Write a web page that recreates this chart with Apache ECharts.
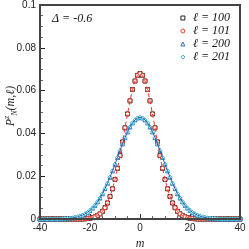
<!DOCTYPE html>
<html><head><meta charset="utf-8">
<script src="https://cdn.jsdelivr.net/npm/echarts@6/dist/echarts.min.js"></script>
<style>html,body{margin:0;padding:0;background:#fff}#c{width:249px;height:249px}</style>
</head><body><div id="c"></div>
<script>
var mValues = [-40,-39,-38,-37,-36,-35,-34,-33,-32,-31,-30,-29,-28,-27,-26,-25,-24,-23,-22,-21,-20,-19,-18,-17,-16,-15,-14,-13,-12,-11,-10,-9,-8,-7,-6,-5,-4,-3,-2,-1,0,1,2,3,4,5,6,7,8,9,10,11,12,13,14,15,16,17,18,19,20,21,22,23,24,25,26,27,28,29,30,31,32,33,34,35,36,37,38,39,40];
var p100 = [0,0,0,0,0,0,0,0,0,0,0,0,0,0,0,0,0,0,0.0001,0.0002,0.0004,0.0006,0.0010,0.0016,0.0024,0.0036,0.0053,0.0075,0.0105,0.0141,0.0185,0.0237,0.0296,0.0360,0.0426,0.0491,0.0552,0.0605,0.0645,0.0671,0.0680,0.0671,0.0645,0.0605,0.0552,0.0491,0.0426,0.0360,0.0296,0.0237,0.0185,0.0141,0.0105,0.0075,0.0053,0.0036,0.0024,0.0016,0.0010,0.0006,0.0004,0.0002,0.0001,0,0,0,0,0,0,0,0,0,0,0,0,0,0,0,0,0,0];
var p101 = [0,0,0,0,0,0,0,0,0,0,0,0,0,0,0,0,0,0,0.0001,0.0002,0.0004,0.0006,0.0010,0.0016,0.0024,0.0036,0.0053,0.0075,0.0105,0.0141,0.0185,0.0237,0.0296,0.0360,0.0426,0.0491,0.0552,0.0605,0.0645,0.0671,0.0680,0.0671,0.0645,0.0605,0.0552,0.0491,0.0426,0.0360,0.0296,0.0237,0.0185,0.0141,0.0105,0.0075,0.0053,0.0036,0.0024,0.0016,0.0010,0.0006,0.0004,0.0002,0.0001,0,0,0,0,0,0,0,0,0,0,0,0,0,0,0,0,0,0];
var p200 = [0,0,0,0,0,0,0,0,0,0.0001,0.0002,0.0003,0.0004,0.0005,0.0007,0.0010,0.0014,0.0018,0.0024,0.0031,0.0040,0.0051,0.0064,0.0080,0.0098,0.0118,0.0142,0.0167,0.0195,0.0225,0.0256,0.0288,0.0320,0.0351,0.0380,0.0407,0.0430,0.0449,0.0463,0.0472,0.0475,0.0472,0.0463,0.0449,0.0430,0.0407,0.0380,0.0351,0.0320,0.0288,0.0256,0.0225,0.0195,0.0167,0.0142,0.0118,0.0098,0.0080,0.0064,0.0051,0.0040,0.0031,0.0024,0.0018,0.0014,0.0010,0.0007,0.0005,0.0004,0.0003,0.0002,0.0001,0,0,0,0,0,0,0,0,0];
var p201 = [0,0,0,0,0,0,0,0,0,0.0001,0.0002,0.0003,0.0004,0.0005,0.0007,0.0010,0.0014,0.0018,0.0024,0.0031,0.0040,0.0051,0.0064,0.0080,0.0098,0.0118,0.0142,0.0167,0.0195,0.0225,0.0256,0.0288,0.0320,0.0351,0.0380,0.0407,0.0430,0.0449,0.0463,0.0472,0.0475,0.0472,0.0463,0.0449,0.0430,0.0407,0.0380,0.0351,0.0320,0.0288,0.0256,0.0225,0.0195,0.0167,0.0142,0.0118,0.0098,0.0080,0.0064,0.0051,0.0040,0.0031,0.0024,0.0018,0.0014,0.0010,0.0007,0.0005,0.0004,0.0003,0.0002,0.0001,0,0,0,0,0,0,0,0,0];
var seriesNames = ['ℓ = 100','ℓ = 101','ℓ = 200','ℓ = 201'];
var seriesColors = ['#222','#e8392a','#2a73c0','#35b8c8'];
var seriesSymbols = ['rect','circle','triangle','diamond'];

function pairs(ys){ return mValues.map(function(m,i){ return [m, ys[i]]; }); }

var chart = echarts.init(document.getElementById('c'), null, {renderer:'canvas'});
var axisCol = '#444';
function scat(i, ys, size){
  return {name:seriesNames[i], type:'scatter', data:pairs(ys), symbol:seriesSymbols[i], symbolSize:size,
    itemStyle:{color:'#fff', opacity:1, borderColor:seriesColors[i], borderWidth:1}, z:3};
}
var serif = 'Liberation Serif';
chart.setOption({
  animation:false,
  grid:{left:40, right:9, top:5, bottom:30, containLabel:false, outerBoundsMode:'none'},
  xAxis:{type:'value', min:-40, max:40, interval:20,
    axisLine:{onZero:false, lineStyle:{color:axisCol, width:2}},
    axisTick:{inside:true, length:5, lineStyle:{color:'#222'}},
    minorTick:{show:true, splitNumber:4, length:3, lineStyle:{color:'#666'}},
    splitLine:{show:false},
    axisLabel:{color:'#222', fontFamily:'Liberation Sans', fontSize:10, margin:4},
    name:'m', nameLocation:'middle', nameGap:18,
    nameTextStyle:{fontFamily:serif, fontStyle:'italic', fontSize:12, color:'#222'}
  },
  yAxis:{type:'value', min:0, max:0.1, interval:0.02,
    axisLine:{onZero:false, lineStyle:{color:axisCol, width:2}},
    axisTick:{inside:true, length:5, lineStyle:{color:'#222'}},
    minorTick:{show:true, splitNumber:4, length:3, lineStyle:{color:'#666'}},
    splitLine:{show:false},
    axisLabel:{color:'#222', fontFamily:'Liberation Sans', fontSize:10, margin:4}
  },
  legend:{orient:'vertical', right:14, top:7, itemGap:1, itemWidth:4, itemHeight:4,
    data:seriesNames.map(function(n,i){ return {name:n, icon:seriesSymbols[i],
      itemStyle:{color:'#fff', borderColor:seriesColors[i], borderWidth:1}}; }),
    textStyle:{fontFamily:serif, fontStyle:'italic', fontSize:12, color:'#111', padding:[0,0,0,3]}
  },
  graphic:[
    {type:'rect', shape:{x:40, y:5, width:200, height:214}, style:{fill:'none', stroke:axisCol, lineWidth:2}, z:10, silent:true},
    {type:'text', left:52, top:13, style:{text:'Δ = -0.6', font:'italic 12px "Liberation Serif"', fill:'#111'}},
    {type:'text', x:11, y:106, rotation:Math.PI/2, silent:true,
      style:{text:'{p|P}{s|z}{b|N}{p|(m,ℓ)}', align:'center', verticalAlign:'middle', fill:'#222',
        rich:{
          p:{fontFamily:serif, fontStyle:'italic', fontSize:12, fill:'#222', lineHeight:16},
          s:{fontFamily:serif, fontStyle:'italic', fontSize:8, fill:'#222', verticalAlign:'top', lineHeight:16},
          b:{fontFamily:serif, fontStyle:'italic', fontSize:8, fill:'#222', verticalAlign:'bottom', lineHeight:16}
        }}}
  ],
  series:[
    {type:'line', data:pairs(p101), showSymbol:false, symbol:'none', lineStyle:{color:'#e8392a', width:1, type:[4,3]}, z:4, silent:true},
    {type:'line', data:pairs(p200), showSymbol:false, symbol:'none', lineStyle:{color:'#2c5fb0', width:1}, z:4, silent:true},
    scat(0, p100, 4),
    scat(1, p101, 4),
    scat(2, p200, 4),
    scat(3, p201, 4)
  ]
});
</script></body></html>
